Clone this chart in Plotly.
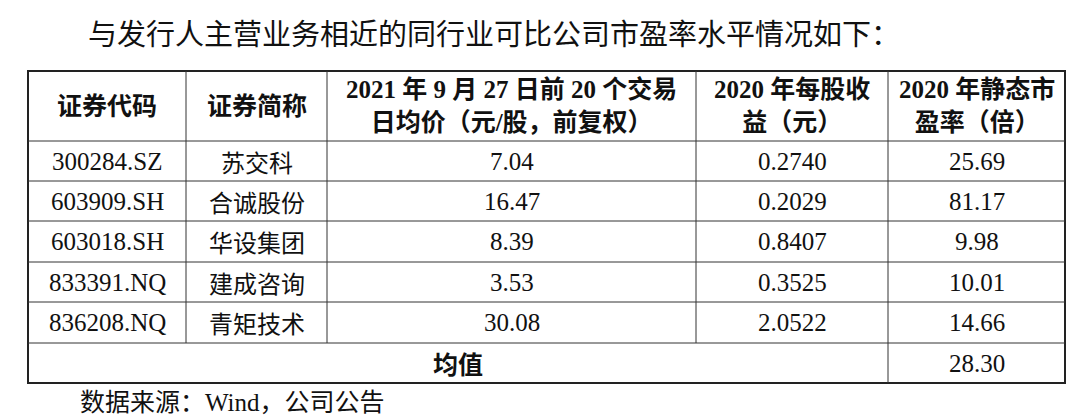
import plotly.graph_objects as go

title = "与发行人主营业务相近的同行业可比公司市盈率水平情况如下："
headers = ["证券代码", "证券简称", "2021 年 9 月 27 日前 20 个交易<br>日均价（元/股，前复权）",
           "2020 年每股收<br>益（元）", "2020 年静态市<br>盈率（倍）"]
codes = ["300284.SZ", "603909.SH", "603018.SH", "833391.NQ", "836208.NQ"]
names = ["苏交科", "合诚股份", "华设集团", "建成咨询", "青矩技术"]
prices = ["7.04", "16.47", "8.39", "3.53", "30.08"]
eps = ["0.2740", "0.2029", "0.8407", "0.3525", "2.0522"]
pe = ["25.69", "81.17", "9.98", "10.01", "14.66"]
avg_label = "均值"
avg_pe = "28.30"
source = "数据来源：Wind，公司公告"

# layout geometry (pixels)
W, H = 1077, 419
col_x = [20, 178, 319, 688, 880, 1057]
row_y = [63, 133, 173, 213, 254, 294, 335, 375]

SERIF = "Liberation Serif, Noto Sans CJK SC"
CJK = "Noto Sans CJK SC"
ink = "#111111"

fig = go.Figure()
fig.add_trace(go.Scatter(x=[0, W], y=[0, H], mode="markers", marker=dict(opacity=0),
                         hoverinfo="skip", showlegend=False))

shapes = []
ann = []
line = dict(color="#333333", width=1)
# outer border
shapes.append(dict(type="rect", x0=col_x[0], x1=col_x[-1], y0=row_y[0], y1=row_y[-1],
                   line=dict(color="#222222", width=2)))
for y in row_y[1:-1]:
    shapes.append(dict(type="line", x0=col_x[0], x1=col_x[-1], y0=y, y1=y, line=line))
for i, x in enumerate(col_x[1:-1]):
    y1 = row_y[-1] if i == 3 else row_y[-2]
    shapes.append(dict(type="line", x0=x, x1=x, y0=row_y[0], y1=y1, line=line))


def cell_text(ci, ri, text, font, size, bold=False, x=None):
    cx = (col_x[ci] + col_x[ci + 1]) / 2 if x is None else x
    cy = (row_y[ri] + row_y[ri + 1]) / 2
    if bold:
        text = "<b>" + text + "</b>"
    ann.append(dict(x=cx, y=cy, text=text, showarrow=False, xanchor="center", yanchor="middle",
                    font=dict(family=font, size=size, color=ink)))


for ci, h in enumerate(headers):
    cell_text(ci, 0, h, "Liberation Serif, " + CJK, 25, bold=True)
for ri in range(len(codes)):
    cell_text(0, ri + 1, codes[ri], SERIF, 25)
    cell_text(1, ri + 1, names[ri], CJK, 24)
    cell_text(2, ri + 1, prices[ri], SERIF, 25)
    cell_text(3, ri + 1, eps[ri], SERIF, 25)
    cell_text(4, ri + 1, pe[ri], SERIF, 25)
cell_text(0, 6, avg_label, CJK, 25, bold=True, x=(col_x[0] + col_x[4]) / 2)
cell_text(4, 6, avg_pe, SERIF, 25)

ann.append(dict(x=78, y=24, text=title, showarrow=False, xanchor="left", yanchor="middle",
                font=dict(family=CJK, size=29, color=ink)))
ann.append(dict(x=70, y=394, text=source, showarrow=False, xanchor="left", yanchor="middle",
                font=dict(family=SERIF, size=25, color=ink)))

fig.update_layout(
    width=W, height=H, margin=dict(l=0, r=0, t=0, b=0),
    plot_bgcolor="white", paper_bgcolor="white",
    xaxis=dict(range=[0, W], visible=False, fixedrange=True),
    yaxis=dict(range=[H, 0], visible=False, fixedrange=True),
    shapes=shapes, annotations=ann,
)
fig.write_html("out.html")
